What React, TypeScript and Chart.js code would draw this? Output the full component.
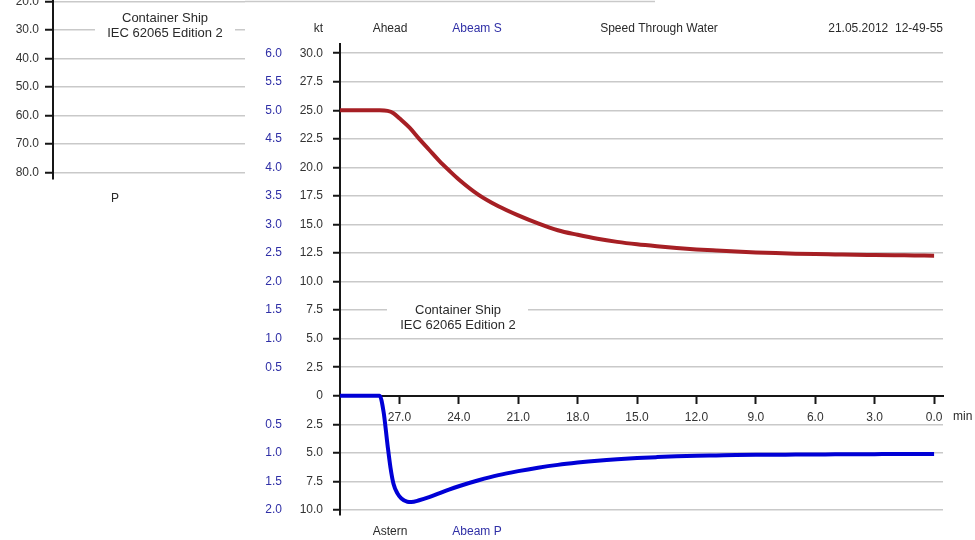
import React, { useEffect, useRef } from 'react';
import { Chart, registerables } from 'chart.js';

Chart.register(...registerables);

// ---- data (minutes before now, speed in kt) ----
const aheadTime = [30, 29, 28, 27.6, 27.3, 27.0, 26.5, 26.0, 25.5, 25.0, 24.5, 24.0, 23, 22, 21, 20, 19, 18, 17, 16, 15, 14, 13, 12, 11, 10, 9, 8, 7, 6, 5, 4, 3, 2, 1, 0];
const aheadSpeed = [25.0, 25.0, 25.0, 24.95, 24.75, 24.3, 23.5, 22.5, 21.55, 20.6, 19.75, 18.95, 17.6, 16.6, 15.8, 15.1, 14.5, 14.1, 13.75, 13.48, 13.27, 13.1, 12.95, 12.82, 12.72, 12.63, 12.56, 12.5, 12.45, 12.41, 12.38, 12.35, 12.33, 12.31, 12.29, 12.27];

const abeamTime = [30, 29, 28.2, 28.0, 27.8, 27.6, 27.45, 27.3, 27.1, 26.9, 26.6, 26.4, 26.0, 25.5, 25.0, 24.5, 24.0, 23, 22, 21, 20, 19, 18, 17, 16, 15, 14, 13, 12, 11, 10, 9, 8, 7, 6, 5, 4, 3, 2, 1, 0];
const abeamSpeed = [0, 0, 0, 0, -1.4, -4.3, -6.3, -7.7, -8.55, -9.0, -9.28, -9.3, -9.15, -8.88, -8.55, -8.22, -7.92, -7.4, -6.95, -6.6, -6.3, -6.05, -5.85, -5.68, -5.55, -5.45, -5.37, -5.3, -5.25, -5.22, -5.19, -5.17, -5.16, -5.15, -5.14, -5.13, -5.12, -5.11, -5.1, -5.1, -5.1];

const minuteTicks = [27, 24, 21, 18, 15, 12, 9, 6, 3, 0];
const ktTicks = [30, 27.5, 25, 22.5, 20, 17.5, 15, 12.5, 10, 7.5, 5, 2.5, 0, -2.5, -5, -7.5, -10];
const msTicks = [6, 5.5, 5, 4.5, 4, 3.5, 3, 2.5, 2, 1.5, 1, 0.5, 0, -0.5, -1, -1.5, -2];
const leftTicks = [20, 30, 40, 50, 60, 70, 80];

const headerLabels = ['Ahead', 'Abeam S', 'Speed Through Water', '21.05.2012  12-49-55'];
const footerLabels = ['Astern', 'Abeam P'];
const shipLabels = ['Container Ship', 'IEC 62065 Edition 2'];

const FONT = '"Liberation Sans", Arial, Helvetica, sans-serif';
const RED = '#a61f24';
const BLUE = '#0000d6';
const BLUE_TXT = '#2f2fa6';
const TXT = '#2a2a2a';
const GRID = '#c9c9c9';
const AXIS = '#161616';

function drawShipLabel(
  ctx: CanvasRenderingContext2D,
  cx: number,
  firstY: number,
  lineY: number,
  gapL: number,
  gapR: number
) {
  ctx.save();
  ctx.fillStyle = '#ffffff';
  ctx.fillRect(gapL, lineY - 3, gapR - gapL, 6);
  ctx.fillStyle = TXT;
  ctx.font = `13px ${FONT}`;
  ctx.textAlign = 'center';
  ctx.textBaseline = 'middle';
  ctx.fillText(shipLabels[0], cx, firstY);
  ctx.fillText(shipLabels[1], cx, firstY + 15);
  ctx.restore();
}

const mainTextPlugin = {
  id: 'mainTexts',
  afterDraw(chart: any) {
    const ctx: CanvasRenderingContext2D = chart.ctx;
    const ca = chart.chartArea;
    const ys = chart.scales.y;
    ctx.save();
    ctx.font = `12px ${FONT}`;
    ctx.textBaseline = 'middle';
    // header
    ctx.fillStyle = TXT;
    ctx.textAlign = 'right';
    ctx.fillText('kt', ca.left - 17, 29);
    ctx.textAlign = 'center';
    ctx.fillText(headerLabels[0], 390, 29);
    ctx.fillStyle = BLUE_TXT;
    ctx.fillText(headerLabels[1], 477, 29);
    ctx.fillStyle = TXT;
    ctx.fillText(headerLabels[2], 659, 29);
    ctx.textAlign = 'right';
    ctx.fillText(headerLabels[3], ca.right, 29);
    // footer
    ctx.textAlign = 'center';
    ctx.fillText(footerLabels[0], 390, 532);
    ctx.fillStyle = BLUE_TXT;
    ctx.fillText(footerLabels[1], 477, 532);
    // unit of x axis
    ctx.fillStyle = TXT;
    ctx.textAlign = 'left';
    ctx.fillText('min', ca.right + 10, ys.getPixelForValue(0) + 21);
    ctx.restore();
    const l75 = ys.getPixelForValue(7.5);
    drawShipLabel(ctx, 458, l75, l75, 387, 528);
  },
};

const leftTextPlugin = {
  id: 'leftTexts',
  afterDraw(chart: any) {
    const ctx: CanvasRenderingContext2D = chart.ctx;
    const ca = chart.chartArea;
    const ys = chart.scales.y;
    ctx.save();
    // extension of the top grid line
    ctx.strokeStyle = GRID;
    ctx.lineWidth = 1.5;
    const y20 = ys.getPixelForValue(20);
    ctx.beginPath();
    ctx.moveTo(ca.right, y20);
    ctx.lineTo(655, y20);
    ctx.stroke();
    ctx.fillStyle = TXT;
    ctx.font = `12px ${FONT}`;
    ctx.textAlign = 'center';
    ctx.textBaseline = 'middle';
    ctx.fillText('P', 115, ca.bottom + 20);
    ctx.restore();
    const l30 = ys.getPixelForValue(30);
    drawShipLabel(ctx, 165, l30 - 12, l30, 95, 235);
  },
};

export default function App() {
  const mainRef = useRef<HTMLCanvasElement>(null);
  const leftRef = useRef<HTMLCanvasElement>(null);

  useEffect(() => {
    const tickFont = { family: FONT, size: 12 };
    const main = new Chart(mainRef.current as HTMLCanvasElement, {
      type: 'line',
      data: {
        datasets: [
          {
            label: 'Ahead',
            data: aheadTime.map((t, i) => ({ x: t, y: aheadSpeed[i] })),
            borderColor: RED,
            backgroundColor: RED,
            borderWidth: 4,
            pointRadius: 0,
            fill: false,
            cubicInterpolationMode: 'monotone',
            yAxisID: 'y',
          },
          {
            label: 'Abeam',
            data: abeamTime.map((t, i) => ({ x: t, y: abeamSpeed[i] })),
            borderColor: BLUE,
            backgroundColor: BLUE,
            borderWidth: 4,
            pointRadius: 0,
            fill: false,
            cubicInterpolationMode: 'monotone',
            yAxisID: 'y',
          },
        ],
      },
      options: {
        responsive: false,
        animation: false,
        events: [],
        layout: { padding: { left: 250, right: 32, top: 44, bottom: 25 } },
        plugins: { legend: { display: false }, tooltip: { enabled: false }, title: { display: false } },
        scales: {
          x: {
            type: 'linear',
            reverse: true,
            min: -0.45,
            max: 30,
            position: { y: 0 } as any,
            afterBuildTicks: (s: any) => {
              s.ticks = minuteTicks.map((v) => ({ value: v }));
            },
            ticks: {
              callback: (v: any) => Number(v).toFixed(1),
              color: '#333',
              font: tickFont,
              padding: 8,
              maxRotation: 0,
              autoSkip: false,
            },
            grid: { display: true, drawOnChartArea: false, drawTicks: true, tickLength: 7, tickColor: AXIS, tickWidth: 2, color: AXIS },
            border: { display: true, color: AXIS, width: 2 },
          },
          y: {
            type: 'linear',
            position: 'left',
            weight: 0,
            min: -10.44,
            max: 30.81,
            afterBuildTicks: (s: any) => {
              s.ticks = ktTicks.map((v) => ({ value: v }));
            },
            afterFit: (s: any) => {
              s.width = 50;
            },
            ticks: {
              callback: (v: any) => (Number(v) === 0 ? '0' : Math.abs(Number(v)).toFixed(1)),
              color: '#333',
              font: tickFont,
              padding: 10,
              autoSkip: false,
            },
            grid: {
              color: (c: any) => (c.tick && c.tick.value === 0 ? 'rgba(0,0,0,0)' : GRID),
              lineWidth: 1.5,
              tickLength: 7,
              tickColor: AXIS,
              tickWidth: 2,
            },
            border: { display: true, color: AXIS, width: 2 },
          },
          y2: {
            type: 'linear',
            position: 'left',
            weight: 1,
            min: -10.44 / 5,
            max: 30.81 / 5,
            afterBuildTicks: (s: any) => {
              s.ticks = msTicks.map((v) => ({ value: v }));
            },
            afterFit: (s: any) => {
              s.width = 40;
            },
            ticks: {
              callback: (v: any) => (Number(v) === 0 ? '' : Math.abs(Number(v)).toFixed(1)),
              color: BLUE_TXT,
              font: tickFont,
              padding: 8,
              autoSkip: false,
            },
            grid: { display: false, drawTicks: false },
            border: { display: false },
          },
        },
      } as any,
      plugins: [mainTextPlugin],
    });

    const left = new Chart(leftRef.current as HTMLCanvasElement, {
      type: 'line',
      data: { datasets: [] },
      options: {
        responsive: false,
        animation: false,
        events: [],
        layout: { padding: { left: 0, right: 415, top: 20, bottom: 41 } },
        plugins: { legend: { display: false }, tooltip: { enabled: false }, title: { display: false } },
        scales: {
          x: { type: 'linear', display: false, min: 0, max: 1 },
          y: {
            type: 'linear',
            position: 'left',
            reverse: true,
            min: 19.44,
            max: 82.36,
            afterBuildTicks: (s: any) => {
              s.ticks = leftTicks.map((v) => ({ value: v }));
            },
            afterFit: (s: any) => {
              s.width = 53;
            },
            ticks: {
              callback: (v: any) => Number(v).toFixed(1),
              color: '#333',
              font: tickFont,
              padding: 6,
              autoSkip: false,
            },
            grid: { color: GRID, lineWidth: 1.5, tickLength: 8, tickColor: AXIS, tickWidth: 2 },
            border: { display: true, color: AXIS, width: 2 },
          },
        },
      } as any,
      plugins: [leftTextPlugin],
    });

    return () => {
      main.destroy();
      left.destroy();
    };
  }, []);

  return (
    <div style={{ position: 'absolute', left: 0, top: 0, width: 975, height: 540, background: '#fff' }}>
      <canvas ref={mainRef} width={975} height={540} style={{ position: 'absolute', left: 0, top: 0, width: 975, height: 540 }} />
      <canvas ref={leftRef} width={660} height={240} style={{ position: 'absolute', left: 0, top: -20, width: 660, height: 240 }} />
    </div>
  );
}
